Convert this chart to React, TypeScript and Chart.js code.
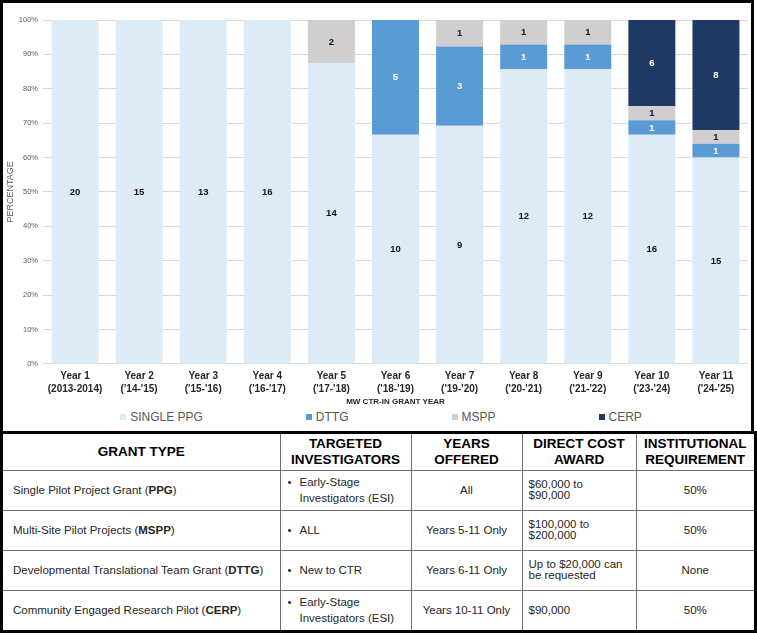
import React, { useEffect, useRef } from "react";
import { Chart, registerables } from "chart.js";

Chart.register(...registerables);

const FONT = "'Liberation Sans', Arial, Helvetica, sans-serif";

// ---- chart data ----
const categories: string[][] = [
  ["Year 1", "(2013-2014)"],
  ["Year 2", "('14-'15)"],
  ["Year 3", "('15-'16)"],
  ["Year 4", "('16-'17)"],
  ["Year 5", "('17-'18)"],
  ["Year 6", "('18-'19)"],
  ["Year 7", "('19-'20)"],
  ["Year 8", "('20-'21)"],
  ["Year 9", "('21-'22)"],
  ["Year 10", "('23-'24)"],
  ["Year 11", "('24-'25)"],
];

const seriesNames = ["SINGLE PPG", "DTTG", "MSPP", "CERP"];
const singlePPG = [20, 15, 13, 16, 14, 10, 9, 12, 12, 16, 15];
const dttg = [0, 0, 0, 0, 0, 5, 3, 1, 1, 1, 1];
const mspp = [0, 0, 0, 0, 2, 0, 1, 1, 1, 1, 1];
const cerp = [0, 0, 0, 0, 0, 0, 0, 0, 0, 6, 8];
const seriesCounts = [singlePPG, dttg, mspp, cerp];
const seriesColors = ["#DDEBF7", "#5B9BD5", "#D0CECE", "#203864"];
const labelColors = ["#111111", "#FFFFFF", "#111111", "#FFFFFF"];

const yTickValues = [0, 10, 20, 30, 40, 50, 60, 70, 80, 90, 100];
const yTitle = "PERCENTAGE";
const xTitle = "MW CTR-IN GRANT YEAR";

// ---- table data ----
const tableHeaders: string[][] = [
  ["GRANT TYPE"],
  ["TARGETED", "INVESTIGATORS"],
  ["YEARS", "OFFERED"],
  ["DIRECT COST", "AWARD"],
  ["INSTITUTIONAL", "REQUIREMENT"],
];
const grantNames = [
  "Single Pilot Project Grant",
  "Multi-Site Pilot Projects",
  "Developmental Translational Team Grant",
  "Community Engaged Research Pilot",
];
const grantAbbr = ["PPG", "MSPP", "DTTG", "CERP"];
const targeted: string[][] = [
  ["Early-Stage", "Investigators (ESI)"],
  ["ALL"],
  ["New to CTR"],
  ["Early-Stage", "Investigators (ESI)"],
];
const yearsOffered = ["All", "Years 5-11 Only", "Years 6-11 Only", "Years 10-11 Only"];
const directCost: string[][] = [
  ["$60,000 to", "$90,000"],
  ["$100,000 to", "$200,000"],
  ["Up to $20,000 can", "be requested"],
  ["$90,000"],
];
const instReq = ["50%", "50%", "None", "50%"];

const colWidths = [277, 131, 111, 114, 118];

const totals = categories.map((_, j) =>
  seriesCounts.reduce((s, arr) => s + arr[j], 0)
);

const segLabelPlugin = {
  id: "segLabels",
  afterDatasetsDraw(chart: any) {
    const ctx = chart.ctx;
    ctx.save();
    ctx.font = `bold 9.5px ${FONT}`;
    ctx.textAlign = "center";
    ctx.textBaseline = "middle";
    chart.data.datasets.forEach((_: any, i: number) => {
      const meta = chart.getDatasetMeta(i);
      const counts = seriesCounts[i];
      meta.data.forEach((el: any, j: number) => {
        if (!counts[j]) return;
        const { x, y, base } = el.getProps(["x", "y", "base"], true);
        ctx.fillStyle = labelColors[i];
        ctx.fillText(String(counts[j]), x, (y + base) / 2 + 0.5);
      });
    });
    ctx.restore();
  },
};

function ChartPanel() {
  const ref = useRef<HTMLCanvasElement | null>(null);
  useEffect(() => {
    if (!ref.current) return;
    const chart = new Chart(ref.current, {
      type: "bar",
      data: {
        labels: categories,
        datasets: seriesNames.map((name, i) => ({
          label: name,
          data: seriesCounts[i].map((v, j) => (v / totals[j]) * 100),
          backgroundColor: seriesColors[i],
          borderWidth: 0,
          barPercentage: 0.733,
          categoryPercentage: 1.0,
        })),
      },
      options: {
        responsive: false,
        maintainAspectRatio: false,
        animation: false,
        layout: { padding: { top: 17, left: 0, right: 3, bottom: 0 } },
        plugins: {
          legend: { display: false },
          tooltip: { enabled: false },
        },
        scales: {
          x: {
            stacked: true,
            grid: { display: false, drawTicks: false },
            border: { display: false },
            afterFit: (scale: any) => {
              scale.height -= 4.5;
            },
            ticks: {
              color: "#262626",
              font: { family: FONT, size: 10, weight: "bold", lineHeight: 1.3 },
              maxRotation: 0,
              minRotation: 0,
              autoSkip: false,
              padding: 6,
            },
            title: {
              display: true,
              text: xTitle,
              color: "#262626",
              font: { family: FONT, size: 8, weight: "bold" },
              padding: { top: 0, bottom: 2 },
            },
          },
          y: {
            stacked: true,
            min: 0,
            max: 100,
            afterBuildTicks: (scale: any) => {
              scale.ticks = yTickValues.map((v) => ({ value: v }));
            },
            ticks: {
              callback: (v: any) => `${v}%`,
              color: "#595959",
              font: { family: FONT, size: 7.5 },
              padding: 5,
            },
            grid: { color: "#D9D9D9", drawTicks: false, lineWidth: 1 },
            border: { display: false },
            title: {
              display: true,
              text: yTitle,
              color: "#595959",
              font: { family: FONT, size: 9 },
              padding: { top: 2, bottom: -2 },
            },
          },
        },
      } as any,
      plugins: [segLabelPlugin],
    });
    return () => chart.destroy();
  }, []);

  return (
    <div
      style={{
        position: "absolute",
        left: 0,
        top: 0,
        width: 754,
        height: 434,
        border: "3px solid #000",
        boxSizing: "border-box",
        background: "#fff",
      }}
    >
      <canvas
        ref={ref}
        width={748}
        height={406}
        style={{ position: "absolute", left: 0, top: 0, width: 748, height: 406 }}
      />
      <div
        style={{
          position: "absolute",
          left: 0,
          top: 406,
          width: 748,
          height: 16,
          display: "flex",
          justifyContent: "center",
          alignItems: "center",
          gap: 103,
          paddingLeft: 8,
          boxSizing: "border-box",
          fontFamily: FONT,
          fontSize: 12,
          color: "#595959",
        }}
      >
        {seriesNames.map((n, i) => (
          <div key={n} style={{ display: "flex", alignItems: "center", whiteSpace: "nowrap" }}>
            <span
              style={{
                display: "inline-block",
                width: 6,
                height: 6,
                background: seriesColors[i],
                marginRight: 4,
              }}
            />
            <span>{n}</span>
          </div>
        ))}
      </div>
    </div>
  );
}

function GrantTable() {
  const cellBase = (ci: number, last: boolean): React.CSSProperties => ({
    borderRight: ci < colWidths.length - 1 ? "1px solid #6e6e6e" : "none",
    borderBottom: last ? "none" : "1px solid #6e6e6e",
    padding: 0,
    verticalAlign: "middle",
  });
  return (
    <div
      style={{
        position: "absolute",
        left: 0,
        top: 431,
        width: 757,
        height: 202,
        border: "3px solid #000",
        boxSizing: "border-box",
        background: "#fff",
        fontFamily: FONT,
      }}
    >
      <table
        style={{
          width: 751,
          borderCollapse: "collapse",
          tableLayout: "fixed",
          borderSpacing: 0,
        }}
      >
        <colgroup>
          {colWidths.map((w, i) => (
            <col key={i} style={{ width: w }} />
          ))}
        </colgroup>
        <tbody>
          <tr style={{ height: 36 }}>
            {tableHeaders.map((lines, ci) => (
              <td
                key={ci}
                style={{
                  ...cellBase(ci, false),
                  textAlign: "center",
                  fontWeight: "bold",
                  fontSize: 13.5,
                  lineHeight: "15.5px",
                  color: "#000",
                }}
              >
                {lines.map((l, k) => (
                  <div key={k}>{l}</div>
                ))}
              </td>
            ))}
          </tr>
          {grantNames.map((name, ri) => {
            const last = ri === grantNames.length - 1;
            return (
              <tr key={ri} style={{ height: 40 }}>
                <td
                  style={{
                    ...cellBase(0, last),
                    paddingLeft: 10,
                    fontSize: 11.5,
                    color: "#262626",
                  }}
                >
                  {name} (<b>{grantAbbr[ri]}</b>)
                </td>
                <td
                  style={{
                    ...cellBase(1, last),
                    paddingLeft: 7,
                    fontSize: 11.5,
                    color: "#262626",
                  }}
                >
                  <div style={{ display: "flex", lineHeight: "16px" }}>
                    <span style={{ width: 12, flex: "0 0 12px" }}>•</span>
                    <div>
                      {targeted[ri].map((l, k) => (
                        <div key={k}>{l}</div>
                      ))}
                    </div>
                  </div>
                </td>
                <td
                  style={{
                    ...cellBase(2, last),
                    textAlign: "center",
                    fontSize: 11.5,
                    color: "#262626",
                  }}
                >
                  {yearsOffered[ri]}
                </td>
                <td
                  style={{
                    ...cellBase(3, last),
                    paddingLeft: 6,
                    fontSize: 11.5,
                    lineHeight: "11.5px",
                    color: "#262626",
                  }}
                >
                  {directCost[ri].map((l, k) => (
                    <div key={k}>{l}</div>
                  ))}
                </td>
                <td
                  style={{
                    ...cellBase(4, last),
                    textAlign: "center",
                    fontSize: 11.5,
                    color: "#262626",
                  }}
                >
                  {instReq[ri]}
                </td>
              </tr>
            );
          })}
        </tbody>
      </table>
    </div>
  );
}

export default function App() {
  return (
    <div
      style={{
        position: "absolute",
        left: 0,
        top: 0,
        width: 757,
        height: 635,
        background: "#fff",
      }}
    >
      <ChartPanel />
      <GrantTable />
    </div>
  );
}
